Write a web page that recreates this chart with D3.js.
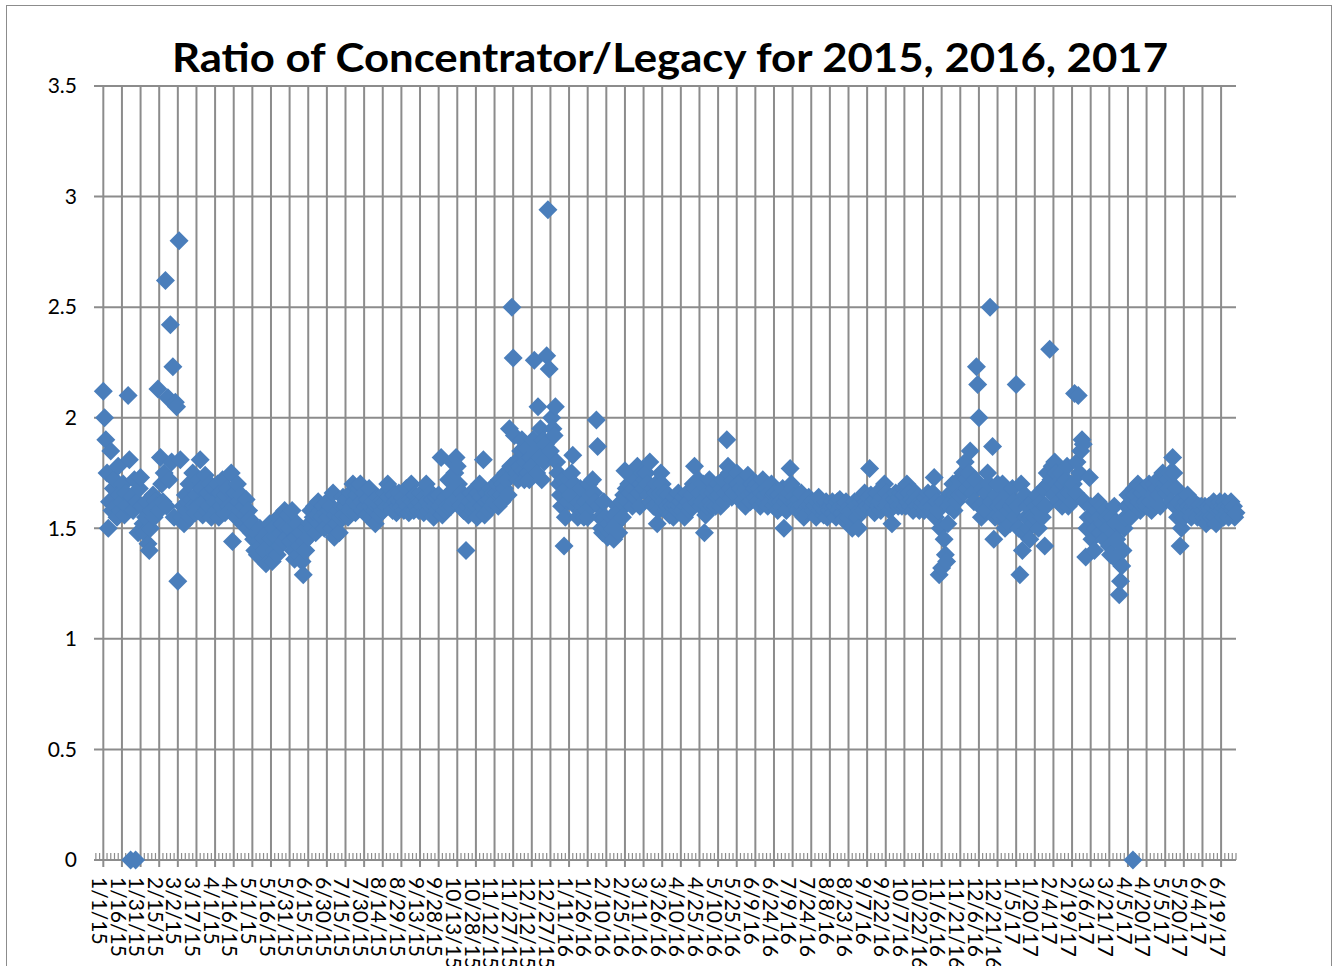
<!DOCTYPE html>
<html><head><meta charset="utf-8">
<script src="https://cdn.jsdelivr.net/npm/d3@7"></script>
<style>body{margin:0;background:#fff}svg{display:block}</style>
</head><body>
<svg id="chart" width="1334" height="966"></svg>
<script>
const chartTitle = "Ratio of Concentrator/Legacy for 2015, 2016, 2017";

// Daily ratio values, one per day starting Jan 1 of each year
const ratio2015 = [
2.12,2.00,1.90,1.75,1.50,1.62,1.85,1.58,1.68,1.72,1.60,1.55,1.78,1.65,1.58,
1.62,1.70,1.56,1.66,1.60,2.10,1.81,0.00,1.64,1.58,1.72,0.00,1.62,1.48,1.68,
1.73,1.60,1.52,1.48,1.55,1.62,1.43,1.40,1.50,1.58,1.65,1.55,1.62,1.60,2.13,
1.58,1.82,1.70,1.62,1.75,2.62,1.60,2.09,1.72,2.42,1.80,2.23,1.55,2.07,2.05,
1.26,2.80,1.81,1.55,1.60,1.52,1.65,1.58,1.62,1.70,1.55,1.63,1.75,1.60,1.57,
1.65,1.60,1.72,1.81,1.68,1.56,1.62,1.74,1.58,1.66,1.60,1.70,1.55,1.64,1.68,
1.62,1.58,1.70,1.55,1.66,1.60,1.72,1.63,1.57,1.65,1.68,1.60,1.58,1.75,1.44,
1.60,1.66,1.55,1.70,1.62,1.58,1.65,1.52,1.60,1.56,1.63,1.50,1.58,1.54,1.48,
1.52,1.45,1.40,1.48,1.38,1.44,1.50,1.42,1.36,1.46,1.40,1.34,1.48,1.42,1.52,
1.45,1.35,1.50,1.40,1.46,1.38,1.55,1.42,1.48,1.52,1.44,1.58,1.50,1.46,1.56,
1.50,1.44,1.58,1.40,1.36,1.46,1.52,1.38,1.42,1.48,1.35,1.29,1.44,1.40,1.50,
1.46,1.52,1.58,1.50,1.55,1.60,1.48,1.56,1.62,1.52,1.58,1.55,1.60,1.50,1.57,
1.62,1.55,1.58,1.60,1.50,1.66,1.46,1.56,1.52,1.58,1.48,1.55,1.60,1.64,1.56,
1.60,1.63,1.55,1.58,1.66,1.60,1.70,1.62,1.57,1.65,1.60,1.68,1.70,1.62,1.58,
1.66,1.60,1.56,1.63,1.68,1.60,1.55,1.62,1.58,1.52,1.60,1.64,1.56,1.60,1.62,
1.58,1.62,1.66,1.60,1.70,1.64,1.68,1.60,1.58,1.65,1.62,1.57,1.60,1.66,1.62,
1.60,1.64,1.58,1.62,1.68,1.60,1.57,1.63,1.70,1.62,1.58,1.65,1.60,1.62,1.58,
1.62,1.66,1.60,1.57,1.64,1.70,1.62,1.58,1.60,1.66,1.63,1.55,1.60,1.64,1.58,
1.65,1.60,1.82,1.56,1.62,1.58,1.64,1.60,1.72,1.66,1.60,1.80,1.62,1.75,1.82,
1.78,1.70,1.62,1.60,1.66,1.58,1.64,1.40,1.60,1.56,1.62,1.66,1.58,1.60,1.64,
1.60,1.55,1.66,1.70,1.64,1.60,1.81,1.56,1.62,1.66,1.58,1.63,1.68,1.60,1.66,
1.62,1.66,1.70,1.60,1.72,1.65,1.62,1.70,1.68,1.75,1.72,1.65,1.95,1.78,2.50,
2.27,1.92,1.80,1.75,1.72,1.78,1.85,1.90,1.76,1.72,1.80,1.86,1.75,1.72,1.82,
1.78,1.90,2.26,1.85,1.75,2.05,1.82,1.95,1.72,1.90,1.80,1.88,2.28,2.94,2.22,
1.85,2.00,1.95,1.92,2.05
];
const ratio2016 = [
1.80,1.75,1.70,1.65,1.60,1.72,1.42,1.55,1.68,1.62,
1.72,1.65,1.75,1.83,1.70,1.60,1.66,1.55,1.62,1.68,1.58,1.60,1.55,1.62,1.58,
1.55,1.70,1.65,1.60,1.72,1.66,1.62,1.99,1.87,1.60,1.55,1.50,1.48,1.62,1.55,
1.50,1.46,1.52,1.48,1.55,1.50,1.45,1.56,1.52,1.60,1.48,1.58,1.62,1.55,1.65,
1.76,1.68,1.62,1.70,1.66,1.75,1.60,1.68,1.64,1.72,1.78,1.66,1.60,1.70,1.75,
1.68,1.72,1.75,1.70,1.65,1.80,1.62,1.68,1.60,1.66,1.70,1.52,1.58,1.66,1.75,
1.70,1.62,1.66,1.58,1.60,1.65,1.56,1.62,1.60,1.55,1.64,1.60,1.58,1.66,1.60,
1.62,1.58,1.64,1.55,1.60,1.66,1.62,1.58,1.60,1.65,1.70,1.78,1.68,1.62,1.72,
1.66,1.60,1.62,1.70,1.48,1.56,1.60,1.66,1.72,1.62,1.60,1.66,1.68,1.60,1.64,
1.70,1.65,1.60,1.68,1.72,1.62,1.66,1.90,1.78,1.75,1.68,1.64,1.72,1.66,1.70,
1.75,1.70,1.65,1.68,1.62,1.72,1.66,1.60,1.68,1.74,1.65,1.62,1.70,1.66,1.68,
1.64,1.70,1.62,1.68,1.60,1.66,1.72,1.62,1.65,1.68,1.60,1.66,1.62,1.70,1.65,
1.60,1.66,1.62,1.58,1.65,1.62,1.60,1.68,1.50,1.62,1.58,1.64,1.66,1.77,1.70,
1.68,1.64,1.62,1.60,1.58,1.63,1.60,1.66,1.60,1.55,1.58,1.62,1.60,1.64,1.58,
1.60,1.62,1.58,1.60,1.55,1.62,1.64,1.58,1.60,1.62,1.56,1.58,1.62,1.55,1.60,
1.58,1.60,1.62,1.57,1.60,1.55,1.62,1.58,1.63,1.60,1.57,1.54,1.60,1.62,1.58,
1.55,1.60,1.58,1.50,1.56,1.62,1.60,1.55,1.50,1.58,1.62,1.64,1.58,1.66,1.62,
1.60,1.64,1.77,1.65,1.60,1.62,1.57,1.63,1.66,1.60,1.62,1.58,1.64,1.60,1.70,
1.66,1.60,1.62,1.58,1.64,1.52,1.60,1.63,1.66,1.62,1.60,1.64,1.66,1.60,1.68,
1.65,1.60,1.70,1.62,1.66,1.60,1.63,1.58,1.62,1.66,1.60,1.64,1.58,1.62,1.60,
1.62,1.58,1.64,1.60,1.66,1.62,1.58,1.60,1.66,1.73,1.55,1.62,1.58,1.29,1.50,
1.32,1.62,1.45,1.38,1.35,1.52,1.60,1.66,1.62,1.70,1.58,1.65,1.62,1.68,1.72,
1.65,1.70,1.75,1.66,1.80,1.72,1.68,1.75,1.85,1.70,1.66,1.62,1.72,2.23,2.15,
2.00,1.60,1.55,1.68,1.62,1.58,1.66,1.75,1.70,2.50,1.62,1.87,1.45,1.55,1.65,
1.70,1.60,1.55,1.62,1.70,1.60,1.50,1.55,1.65,1.58,1.52
];
const ratio2017 = [
1.60,1.68,1.62,1.55,
2.15,1.60,1.50,1.29,1.70,1.40,1.48,1.65,1.55,1.60,1.50,1.45,1.55,1.62,1.52,
1.55,1.60,1.65,1.50,1.58,1.62,1.55,1.68,1.42,1.60,1.75,1.70,2.31,1.72,1.78,
1.65,1.80,1.75,1.70,1.62,1.68,1.75,1.60,1.70,1.65,1.72,1.78,1.60,1.66,1.70,
1.62,1.70,2.11,1.66,1.80,2.10,1.75,1.85,1.90,1.88,1.62,1.37,1.50,1.55,1.73,
1.60,1.45,1.55,1.40,1.50,1.58,1.62,1.55,1.48,1.60,1.52,1.45,1.58,1.55,1.50,
1.42,1.38,1.55,1.48,1.60,1.52,1.45,1.35,1.20,1.26,1.33,1.40,1.50,1.55,1.60,
1.65,1.60,1.55,1.62,0.00,1.68,1.65,1.60,1.70,1.62,1.58,1.66,1.60,1.68,1.62,
1.60,1.66,1.70,1.62,1.58,1.65,1.70,1.60,1.68,1.72,1.65,1.60,1.70,1.75,1.68,
1.70,1.66,1.72,1.68,1.75,1.62,1.82,1.75,1.60,1.68,1.55,1.62,1.42,1.50,1.60,
1.55,1.60,1.62,1.65,1.60,1.58,1.55,1.60,1.62,1.58,1.60,1.55,1.60,1.58,1.60,
1.58,1.55,1.60,1.52,1.55,1.60,1.58,1.55,1.60,1.62,1.55,1.52,1.58,1.60,1.62,
1.58,1.60,1.55,1.62,1.60,1.58,1.55,1.60,1.62,1.58,1.60,1.55,1.57
];

const xTickLabels = [
"1/1/15","1/16/15","1/31/15","2/15/15","3/2/15","3/17/15","4/1/15","4/16/15","5/1/15","5/16/15",
"5/31/15","6/15/15","6/30/15","7/15/15","7/30/15","8/14/15","8/29/15","9/13/15","9/28/15","10/13/15",
"10/28/15","11/12/15","11/27/15","12/12/15","12/27/15","1/11/16","1/26/16","2/10/16","2/25/16","3/11/16",
"3/26/16","4/10/16","4/25/16","5/10/16","5/25/16","6/9/16","6/24/16","7/9/16","7/24/16","8/8/16",
"8/23/16","9/7/16","9/22/16","10/7/16","10/22/16","11/6/16","11/21/16","12/6/16","12/21/16","1/5/17",
"1/20/17","2/4/17","2/19/17","3/6/17","3/21/17","4/5/17","4/20/17","5/5/17","5/20/17","6/4/17","6/19/17"
];
const yTicks = [0, 0.5, 1, 1.5, 2, 2.5, 3, 3.5];
const yTickLabels = ["0", "0.5", "1", "1.5", "2", "2.5", "3", "3.5"];
const axisStart = "2014-12-24T12:00:00Z";
const axisEnd = "2017-07-01T00:00:00Z";

// ---------- build data ----------
const DAY = 86400000;
const series = [];
[[2015, ratio2015], [2016, ratio2016], [2017, ratio2017]].forEach(([yr, arr]) => {
  arr.forEach((v, i) => series.push({ date: new Date(Date.UTC(yr, 0, 1 + i)), value: v }));
});
const parseTick = d3.utcParse("%m/%d/%y");
const tickDates = xTickLabels.map(parseTick);

// ---------- layout ----------
const svg = d3.select("#chart");
const W = 1334, H = 966;
const plot = { left: 94, right: 1236, top: 86, bottom: 860 };
const gridColor = "#8c8c8c";
const markerColor = "#4a7ebb";
const fontFam = "Lato, 'Open Sans', 'Liberation Sans', sans-serif";

svg.append("rect").attr("x", 0).attr("y", 0).attr("width", W).attr("height", H).attr("fill", "#fff");
svg.append("rect").attr("x", 6.5).attr("y", 5.5).attr("width", 1325).attr("height", 990)
  .attr("fill", "none").attr("stroke", "#8c8c8c").attr("stroke-width", 1);

const x = d3.scaleUtc().domain([new Date(axisStart), new Date(axisEnd)]).range([plot.left, plot.right]);
const y = d3.scaleLinear().domain([0, 3.5]).range([plot.bottom, plot.top]);

// horizontal gridlines
svg.append("g").selectAll("line").data(yTicks).join("line")
  .attr("x1", plot.left).attr("x2", plot.right)
  .attr("y1", d => y(d)).attr("y2", d => y(d))
  .attr("stroke", gridColor).attr("stroke-width", 2);

// vertical gridlines (extend below axis as major ticks)
svg.append("g").selectAll("line").data(tickDates).join("line")
  .attr("x1", d => x(d)).attr("x2", d => x(d))
  .attr("y1", plot.top).attr("y2", plot.bottom + 7)
  .attr("stroke", gridColor).attr("stroke-width", 2);

// minor ticks every 3 days
const minorDates = d3.utcDay.every(3).range(new Date(Date.UTC(2014, 11, 26)), new Date(axisEnd).getTime() + DAY)
  .filter(d => !tickDates.some(t => Math.abs(t - d) < DAY / 2));
const minorAll = d3.range(-6, 913, 3).map(k => new Date(Date.UTC(2015, 0, 1 + k))).filter(d => (Math.round((d - Date.UTC(2015,0,1)) / DAY)) % 15 !== 0);
svg.append("g").selectAll("line").data(minorAll).join("line")
  .attr("x1", d => x(d)).attr("x2", d => x(d))
  .attr("y1", plot.bottom - 7).attr("y2", plot.bottom)
  .attr("stroke", gridColor).attr("stroke-width", 1.2);

// x-axis line
svg.append("line").attr("x1", plot.left).attr("x2", plot.right)
  .attr("y1", plot.bottom).attr("y2", plot.bottom)
  .attr("stroke", gridColor).attr("stroke-width", 2);

// y labels
svg.append("g").selectAll("text").data(yTicks).join("text")
  .attr("x", 77).attr("y", d => y(d)).attr("dy", "0.35em")
  .attr("text-anchor", "end")
  .attr("font-family", fontFam).attr("font-size", 21).attr("fill", "#000")
  .text((d, i) => yTickLabels[i]);

// x labels rotated
svg.append("g").selectAll("text").data(tickDates).join("text")
  .attr("transform", d => `translate(${x(d) - 4},877) rotate(90)`)
  .attr("dy", "0.35em")
  .attr("text-anchor", "start")
  .attr("font-family", fontFam).attr("font-size", 21).attr("fill", "#000")
  .text((d, i) => xTickLabels[i]);

// markers
const diamond = "M0,-9.5L9.5,0L0,9.5L-9.5,0Z";
svg.append("g").selectAll("path").data(series).join("path")
  .attr("transform", d => `translate(${x(d.date)},${y(d.value)})`)
  .attr("d", diamond)
  .attr("fill", markerColor);

// title
svg.append("text")
  .attr("x", 670).attr("y", 72)
  .attr("text-anchor", "middle")
  .attr("font-family", fontFam).attr("font-weight", "bold").attr("font-size", 40)
  .attr("textLength", 996).attr("lengthAdjust", "spacingAndGlyphs")
  .attr("fill", "#000")
  .text(chartTitle);
</script>
</body></html>
